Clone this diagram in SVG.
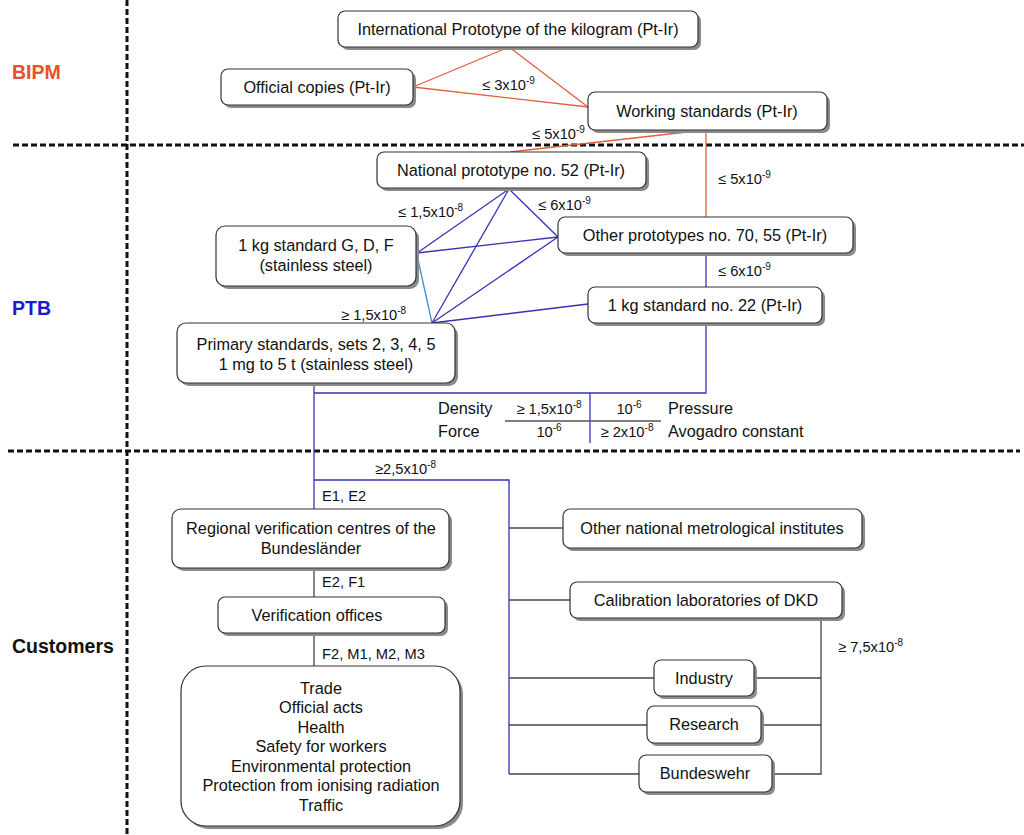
<svg xmlns="http://www.w3.org/2000/svg" width="1024" height="835" viewBox="0 0 1024 835">
<style>
text{font-family:"Liberation Sans",Arial,sans-serif;fill:#111}
.n{font-size:16.3px;text-anchor:middle}
.l{font-size:14.7px}
.lm{font-size:14.7px;text-anchor:middle}
.t{font-size:16.3px}
.sup{font-size:10px}
.box{fill:#fff;stroke:#333;stroke-width:1.2}
.sh{fill:#8a8a8a}
.dash{stroke:#111;stroke-width:3;stroke-dasharray:6 3;fill:none}
.or{stroke:#e0603a;stroke-width:1.3;fill:none}
.bl{stroke:#3333b5;stroke-width:1.3;fill:none}
.lb{stroke:#3a90d8;stroke-width:1.3;fill:none}
.gr{stroke:#444;stroke-width:1.3;fill:none}
.sec{font-size:19.5px;font-weight:bold}
</style>
<rect width="1024" height="835" fill="#fff"/>
<g id="dividers">
<line class="dash" x1="127" y1="0" x2="127" y2="835"/>
<line class="dash" x1="13" y1="145" x2="1024" y2="145"/>
<line class="dash" x1="8" y1="451" x2="1020" y2="451"/>
</g>
<g id="section-labels">
<text class="sec" x="12" y="79" style="fill:#e8502a">BIPM</text>
<text class="sec" x="12" y="315" style="fill:#1a1acc">PTB</text>
<text class="sec" x="12" y="653" style="fill:#111">Customers</text>
</g>
<g id="connectors">
<line class="or" x1="509" y1="47" x2="413" y2="87"/>
<line class="or" x1="509" y1="47" x2="588" y2="107"/>
<line class="or" x1="413" y1="87" x2="588" y2="107"/>
<line class="or" x1="705" y1="130" x2="510" y2="152"/>
<line class="or" x1="706" y1="130" x2="706" y2="217"/>
<line class="bl" x1="509" y1="189" x2="417" y2="253"/>
<line class="bl" x1="509" y1="189" x2="558" y2="237"/>
<line class="bl" x1="509" y1="189" x2="432" y2="323"/>
<line class="bl" x1="417" y1="253" x2="558" y2="237"/>
<line class="bl" x1="432" y1="323" x2="558" y2="237"/>
<line class="lb" x1="417" y1="255" x2="432" y2="323"/>
<line class="bl" x1="432" y1="323" x2="588" y2="304"/>
<line class="bl" x1="706" y1="253" x2="706" y2="287"/>
<polyline class="bl" points="706,323 706,393 314,393"/>
<line class="bl" x1="314" y1="383" x2="314" y2="509"/>
<line class="bl" x1="590" y1="393" x2="590" y2="443"/>
<polyline class="bl" points="314,480 509,480 509,774"/>
<line class="gr" x1="314" y1="568" x2="314" y2="597"/>
<line class="gr" x1="314" y1="633" x2="314" y2="666"/>
<line class="gr" x1="509" y1="528" x2="563" y2="528"/>
<line class="gr" x1="509" y1="600" x2="570" y2="600"/>
<line class="gr" x1="509" y1="678" x2="654" y2="678"/>
<line class="gr" x1="509" y1="725" x2="647" y2="725"/>
<line class="gr" x1="509" y1="774" x2="639" y2="774"/>
<polyline class="gr" points="821,618 821,774 772,774"/>
<line class="gr" x1="754" y1="678" x2="821" y2="678"/>
<line class="gr" x1="761" y1="725" x2="821" y2="725"/>
<line x1="505" y1="421" x2="661" y2="421" stroke="#555" stroke-width="1.3"/>
</g>
<g id="ipk"><rect class="sh" x="341" y="14" width="360" height="36" rx="7"/><rect class="box" x="338" y="11" width="360" height="36" rx="7"/><text class="n" x="518" y="35">International Prototype of the kilogram (Pt-Ir)</text></g>
<g id="official-copies"><rect class="sh" x="224" y="72" width="192" height="36" rx="7"/><rect class="box" x="221" y="69" width="192" height="36" rx="7"/><text class="n" x="317" y="93">Official copies (Pt-Ir)</text></g>
<g id="working-standards"><rect class="sh" x="591" y="95" width="239" height="38" rx="7"/><rect class="box" x="588" y="92" width="239" height="38" rx="7"/><text class="n" x="707" y="117">Working standards (Pt-Ir)</text></g>
<g id="national-prototype"><rect class="sh" x="380" y="155" width="269" height="36" rx="7"/><rect class="box" x="377" y="152" width="269" height="36" rx="7"/><text class="n" x="511" y="176">National prototype no. 52 (Pt-Ir)</text></g>
<g id="standard-gdf"><rect class="sh" x="219" y="229" width="200" height="60" rx="9"/><rect class="box" x="216" y="226" width="200" height="60" rx="9"/><text class="n" x="316" y="251">1 kg standard G, D, F</text><text class="n" x="316" y="271">(stainless steel)</text></g>
<g id="other-prototypes"><rect class="sh" x="561" y="220" width="295" height="36" rx="7"/><rect class="box" x="558" y="217" width="295" height="36" rx="7"/><text class="n" x="705" y="241">Other prototypes no. 70, 55 (Pt-Ir)</text></g>
<g id="standard-22"><rect class="sh" x="591" y="290" width="234" height="36" rx="7"/><rect class="box" x="588" y="287" width="234" height="36" rx="7"/><text class="n" x="705" y="311">1 kg standard no. 22 (Pt-Ir)</text></g>
<g id="primary-standards"><rect class="sh" x="180" y="326" width="278" height="60" rx="9"/><rect class="box" x="177" y="323" width="278" height="60" rx="9"/><text class="n" x="316" y="350">Primary standards, sets 2, 3, 4, 5</text><text class="n" x="316" y="370">1 mg to 5 t (stainless steel)</text></g>
<g id="regional-centres"><rect class="sh" x="175" y="512" width="277" height="59" rx="9"/><rect class="box" x="172" y="509" width="277" height="59" rx="9"/><text class="n" x="311" y="534">Regional verification centres of the</text><text class="n" x="311" y="554">Bundesländer</text></g>
<g id="verification-offices"><rect class="sh" x="221" y="600" width="227" height="36" rx="7"/><rect class="box" x="218" y="597" width="227" height="36" rx="7"/><text class="n" x="317" y="621">Verification offices</text></g>
<g id="customers-areas"><rect class="sh" x="184" y="669" width="279" height="160" rx="25"/><rect class="box" x="181" y="666" width="279" height="160" rx="25"/>
<text class="n" x="321" y="694">Trade</text><text class="n" x="321" y="713">Official acts</text><text class="n" x="321" y="733">Health</text><text class="n" x="321" y="752">Safety for workers</text><text class="n" x="321" y="772">Environmental protection</text><text class="n" x="321" y="791">Protection from ionising radiation</text><text class="n" x="321" y="811">Traffic</text></g>
<g id="other-nmi"><rect class="sh" x="566" y="512" width="299" height="39" rx="7"/><rect class="box" x="563" y="509" width="299" height="39" rx="7"/><text class="n" x="712" y="534">Other national metrological institutes</text></g>
<g id="dkd"><rect class="sh" x="573" y="585" width="272" height="36" rx="7"/><rect class="box" x="570" y="582" width="272" height="36" rx="7"/><text class="n" x="706" y="606">Calibration laboratories of DKD</text></g>
<g id="industry"><rect class="sh" x="657" y="663" width="100" height="36" rx="7"/><rect class="box" x="654" y="660" width="100" height="36" rx="7"/><text class="n" x="704" y="684">Industry</text></g>
<g id="research"><rect class="sh" x="650" y="709" width="114" height="37" rx="7"/><rect class="box" x="647" y="706" width="114" height="37" rx="7"/><text class="n" x="704" y="730">Research</text></g>
<g id="bundeswehr"><rect class="sh" x="642" y="758" width="133" height="37" rx="7"/><rect class="box" x="639" y="755" width="133" height="37" rx="7"/><text class="n" x="705" y="779">Bundeswehr</text></g>
<g id="labels">
<text class="l" x="482" y="90">≤ 3x10<tspan class="sup" dy="-6">-9</tspan></text>
<text class="l" x="532" y="139">≤ 5x10<tspan class="sup" dy="-6">-9</tspan></text>
<text class="l" x="718" y="184">≤ 5x10<tspan class="sup" dy="-6">-9</tspan></text>
<text class="l" x="398" y="217">≤ 1,5x10<tspan class="sup" dy="-6">-8</tspan></text>
<text class="l" x="538" y="210">≤ 6x10<tspan class="sup" dy="-6">-9</tspan></text>
<text class="l" x="718" y="276">≤ 6x10<tspan class="sup" dy="-6">-9</tspan></text>
<text class="l" x="341" y="320">≥ 1,5x10<tspan class="sup" dy="-6">-8</tspan></text>
<text class="t" x="438" y="414">Density</text>
<text class="lm" x="549" y="414">≥ 1,5x10<tspan class="sup" dy="-6">-8</tspan></text>
<text class="lm" x="629" y="414">10<tspan class="sup" dy="-6">-6</tspan></text>
<text class="t" x="668" y="414">Pressure</text>
<text class="t" x="438" y="437">Force</text>
<text class="lm" x="549" y="437">10<tspan class="sup" dy="-6">-6</tspan></text>
<text class="lm" x="627" y="437">≥ 2x10<tspan class="sup" dy="-6">-8</tspan></text>
<text class="t" x="668" y="437">Avogadro constant</text>
<text class="l" x="375" y="474">≥2,5x10<tspan class="sup" dy="-6">-8</tspan></text>
<text class="l" x="322" y="501">E1, E2</text>
<text class="l" x="322" y="587">E2, F1</text>
<text class="l" x="322" y="659">F2, M1, M2, M3</text>
<text class="l" x="838" y="652">≥ 7,5x10<tspan class="sup" dy="-6">-8</tspan></text>
</g>
</svg>
